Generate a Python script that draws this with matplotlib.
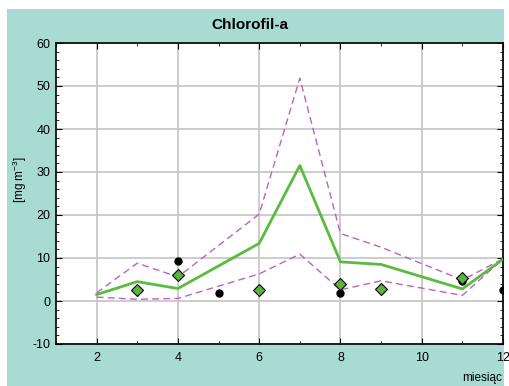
import matplotlib.pyplot as plt
from matplotlib.patches import Rectangle
from matplotlib.ticker import MultipleLocator

plt.rcParams['font.family'] = ['Liberation Sans', 'DejaVu Sans']
plt.rcParams['axes.unicode_minus'] = False
plt.rcParams['mathtext.fontset'] = 'custom'
plt.rcParams['mathtext.rm'] = 'Liberation Sans'
plt.rcParams['mathtext.default'] = 'regular'

# mean line and dashed bounds (month -> value)
months = [2, 3, 4, 6, 7, 8, 9, 11, 12]
mean = [1.5, 4.5, 2.9, 13.4, 31.5, 9.1, 8.5, 2.8, 9.7]
upper = [1.9, 8.8, 5.6, 20.2, 51.8, 15.7, 12.5, 4.9, 9.8]
lower = [0.9, 0.4, 0.6, 6.3, 10.9, 2.6, 4.7, 1.3, 9.8]

# black dots
dot_x = [4, 5, 8, 11, 12]
dot_y = [9.2, 1.9, 1.9, 4.7, 2.5]

# green diamonds
dia_x = [3, 4, 6, 8, 9, 11]
dia_y = [2.5, 6.0, 2.5, 4.0, 2.9, 5.4]

teal = "#A8DCD2"

fig = plt.figure(figsize=(5.1, 3.86), dpi=100)
fig.patch.set_facecolor("white")
bg = Rectangle((7 / 510, 0), 497 / 510, 1 - 9 / 386,
               transform=fig.transFigure, facecolor=teal,
               edgecolor="none", zorder=-10)
fig.add_artist(bg)

ax = fig.add_axes([56 / 510, 1 - 344 / 386, 447 / 510, 301 / 386])
ax.set_zorder(1)
ax.set_facecolor("white")

ax.plot(months, upper, color="#C060C0", lw=1, ls=(0, (5, 3)), zorder=3)
ax.plot(months, lower, color="#C060C0", lw=1, ls=(0, (5, 3)), zorder=3)
ax.plot(months, mean, color="#5BBB3F", lw=2, zorder=4)
ax.plot(dot_x, dot_y, "o", color="black", ms=5, zorder=5)
ax.plot(dia_x, dia_y, "D", color="#5BB33C", mec="black", mew=0.8, ms=6,
        zorder=6)

ax.set_xlim(1, 12)
ax.set_ylim(-10, 60)
ax.xaxis.set_major_locator(MultipleLocator(2))
ax.xaxis.set_minor_locator(MultipleLocator(1))
ax.yaxis.set_major_locator(MultipleLocator(10))
ax.yaxis.set_minor_locator(MultipleLocator(2))
ax.grid(True, which="major", color="#C8C8C8", lw=1.3)
ax.set_axisbelow(True)
ax.tick_params(which="both", direction="in", top=True, right=True,
               labelsize=9)
ax.tick_params(axis="x", pad=6)
ax.tick_params(axis="y", pad=4)
ax.tick_params(which="major", length=4)
ax.tick_params(which="minor", length=2.5)
for s in ax.spines.values():
    s.set_linewidth(1.2)

fig.text(20 / 510, 1 - 180 / 386, "[mg m$^{-3}$]", rotation=90,
         ha="center", va="center", fontsize=8.5)
fig.text(0.5 - 5 / 510, 1 - 25 / 386, "Chlorofil-a", ha="center",
         va="center", fontsize=11, fontweight="bold")
fig.text(502 / 510, 1 - 378 / 386, "miesiąc", ha="right", va="center",
         fontsize=8.5)

fig.savefig("out.png", dpi=100)
